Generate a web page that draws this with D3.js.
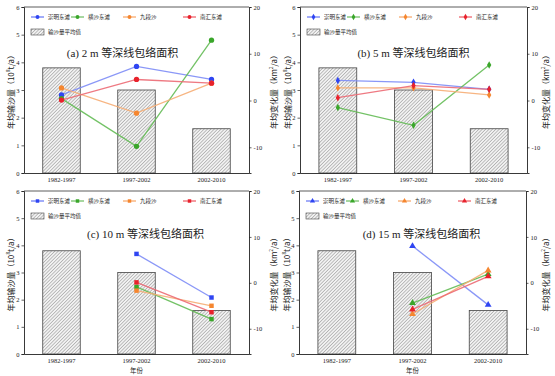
<!DOCTYPE html>
<html><head><meta charset="utf-8">
<script src="https://cdn.jsdelivr.net/npm/d3@7"></script>
<style>body{margin:0;background:#fff}svg{display:block}</style>
</head><body>
<svg id="c" width="555" height="376"></svg>
<script>
const categories = ["1982-1997", "1997-2002", "2002-2010"];
const barValues = [3.8, 3.0, 1.6];
const seriesNames = ["崇明东滩", "横沙东滩", "九段沙", "南汇东滩"];
const barLegend = "输沙量平均值";
const leftTicks = [0, 1, 2, 3, 4, 5, 6];
const rightTicks = [-10, 0, 10, 20];
const panelTitles = ["(a) 2 m 等深线包络面积", "(b) 5 m 等深线包络面积", "(c) 10 m 等深线包络面积", "(d) 15 m 等深线包络面积"];
// series values (km²/a), order: 崇明东滩, 横沙东滩, 九段沙, 南汇东滩
const panelA = [[1.2, 7.3, 4.5], [0.4, -9.8, 12.9], [2.7, -2.7, 3.7], [0.1, 4.5, 3.7]];
const panelB = [[4.3, 3.9, 2.4], [-1.5, -5.3, 7.6], [2.7, 2.7, 1.2], [0.6, 3.2, 2.4]];
const panelC = [[null, 6.3, -3.2], [null, -0.9, -7.9], [null, -1.7, -5.0], [null, 0.1, -6.4]];
const panelD = [[null, 8.0, -4.8], [null, -4.4, 1.9], [null, -6.8, 2.7], [null, -5.8, 1.4]];

const panelData = [panelA, panelB, panelC, panelD];
const colors = ["#2f45f2", "#3aa62a", "#f5862f", "#e8222c"];
const lineColors = ["#7d8cf6", "#64bb55", "#f6ad74", "#ec6a74"];
const symbols = [d3.symbolCircle, d3.symbolDiamond, d3.symbolSquare, d3.symbolTriangle];
const symSizes = [22, 16, 20, 20];

const svg = d3.select("#c");
const defs = svg.append("defs");
const pat = defs.append("pattern").attr("id", "hatch").attr("patternUnits", "userSpaceOnUse")
  .attr("width", 2.4).attr("height", 2.4).attr("patternTransform", "rotate(45)");
pat.append("rect").attr("width", 2.4).attr("height", 2.4).attr("fill", "#f2f2f2");
pat.append("line").attr("x1", 0).attr("y1", 0).attr("x2", 0).attr("y2", 2.4)
  .attr("stroke", "#8a8a8a").attr("stroke-width", 1);

const serif = "'Liberation Serif','Noto Sans CJK SC',serif";
const cjk = "'Noto Sans CJK SC','Liberation Serif',serif";

const panels = [
  {x0: 24, x1: 249, y0: 7, y1: 173, lx: 10, rx: 273, xl: false, tdx: -14, tdy: 50},
  {x0: 300, x1: 527, y0: 7, y1: 173, lx: 287, rx: 545, xl: false, tdx: 0, tdy: 50},
  {x0: 24, x1: 249, y0: 191, y1: 354, lx: 10, rx: 273, xl: true, tdx: 9, tdy: 47},
  {x0: 299, x1: 526, y0: 191, y1: 354, lx: 286, rx: 545, xl: true, tdx: 9, tdy: 47}
];

panels.forEach((p, pi) => {
  const g = svg.append("g");
  const x = d3.scaleBand().domain(categories).range([p.x0, p.x1]).paddingInner(0.5).paddingOuter(0.25);
  const yL = d3.scaleLinear().domain([0, 6]).range([p.y1, p.y0]);
  const yR = d3.scaleLinear().domain([-15.5, 20]).range([p.y1, p.y0]);

  // bars
  g.selectAll("rect.bar").data(barValues).join("rect").attr("class", "bar")
    .attr("x", (d, i) => x(categories[i])).attr("width", x.bandwidth())
    .attr("y", d => yL(d)).attr("height", d => yL(0) - yL(d))
    .attr("fill", "url(#hatch)").attr("stroke", "#444").attr("stroke-width", 0.8);

  // top frame
  g.append("line").attr("x1", p.x0).attr("x2", p.x1).attr("y1", p.y0).attr("y2", p.y0)
    .attr("stroke", "#333").attr("stroke-width", 0.8);

  // axes
  const axL = g.append("g").attr("transform", `translate(${p.x0},0)`)
    .call(d3.axisLeft(yL).tickValues(leftTicks).tickSize(2.5).tickPadding(2).tickFormat(d3.format("d")));
  const axR = g.append("g").attr("transform", `translate(${p.x1},0)`)
    .call(d3.axisRight(yR).tickValues(rightTicks).tickSize(2.5).tickPadding(2).tickFormat(d => d < 0 ? "-" + Math.abs(d) : d));
  const axB = g.append("g").attr("transform", `translate(0,${p.y1})`)
    .call(d3.axisBottom(x).tickSize(0).tickPadding(4));
  [axL, axR, axB].forEach(a => {
    a.selectAll("path").attr("stroke", "#222").attr("stroke-width", 0.9);
    a.selectAll("line").attr("stroke", "#222").attr("stroke-width", 0.7);
    a.selectAll("text").attr("font-family", serif).attr("font-size", 6.5).attr("fill", "#222");
  });
  axB.selectAll("text").attr("font-size", 6.5);

  // series
  const data = panelData[pi];
  const line = d3.line().defined(d => d.v !== null).x(d => x(d.c) + x.bandwidth() / 2).y(d => yR(d.v));
  data.forEach((vals, si) => {
    const pts = vals.map((v, i) => ({c: categories[i], v}));
    g.append("path").datum(pts).attr("d", line).attr("fill", "none")
      .attr("stroke", lineColors[si]).attr("stroke-width", 1.3).attr("opacity", 0.9);
  });
  data.forEach((vals, si) => {
    const pts = vals.map((v, i) => ({c: categories[i], v})).filter(d => d.v !== null);
    g.selectAll(null).data(pts).join("path")
      .attr("transform", d => `translate(${x(d.c) + x.bandwidth() / 2},${yR(d.v)})`)
      .attr("d", d3.symbol().type(symbols[pi]).size(symSizes[pi]))
      .attr("fill", colors[si]);
  });

  // legend
  const lx = p.x0 + 7;
  const ly = p.y0 + 10;
  const itemX = [0, 40, 92, 152];
  seriesNames.forEach((n, si) => {
    const ix = lx + itemX[si];
    g.append("line").attr("x1", ix).attr("x2", ix + 13).attr("y1", ly).attr("y2", ly)
      .attr("stroke", colors[si]).attr("stroke-width", 0.9);
    g.append("path").attr("transform", `translate(${ix + 6.5},${ly})`)
      .attr("d", d3.symbol().type(symbols[pi]).size(12)).attr("fill", colors[si]);
    g.append("text").attr("x", ix + 17).attr("y", ly + 2).attr("font-family", cjk)
      .attr("font-size", 5.5).attr("fill", "#222").text(n);
  });
  g.append("rect").attr("x", lx).attr("y", ly + 12).attr("width", 13).attr("height", 6)
    .attr("fill", "url(#hatch)").attr("stroke", "#444").attr("stroke-width", 0.6);
  g.append("text").attr("x", lx + 17).attr("y", ly + 17).attr("font-family", cjk)
    .attr("font-size", 5.5).attr("fill", "#222").text(barLegend);

  // title
  g.append("text").attr("x", (p.x0 + p.x1) / 2 + p.tdx).attr("y", p.y0 + p.tdy)
    .attr("text-anchor", "middle").attr("font-family", serif).attr("font-size", 11).attr("fill", "#222")
    .text(panelTitles[pi]);

  // y labels
  const ymid = (p.y0 + p.y1) / 2;
  const tl = g.append("text").attr("transform", `translate(${p.lx},${ymid}) rotate(-90)`)
    .attr("text-anchor", "middle").attr("dominant-baseline", "central")
    .attr("font-family", cjk).attr("font-size", 8).attr("fill", "#222");
  tl.append("tspan").text("年均输沙量（10");
  tl.append("tspan").attr("font-size", 5).attr("dy", -3).text("8");
  tl.append("tspan").attr("dy", 3).text("t/a）");
  const tr = g.append("text").attr("transform", `translate(${p.rx},${ymid}) rotate(-90)`)
    .attr("text-anchor", "middle").attr("dominant-baseline", "central")
    .attr("font-family", cjk).attr("font-size", 8).attr("fill", "#222");
  tr.append("tspan").text("年均变化量（km");
  tr.append("tspan").attr("font-size", 5).attr("dy", -3).text("2");
  tr.append("tspan").attr("dy", 3).text("/a）");

  if (p.xl) {
    g.append("text").attr("x", (p.x0 + p.x1) / 2).attr("y", p.y1 + 19)
      .attr("text-anchor", "middle").attr("font-family", cjk).attr("font-size", 6.5).attr("fill", "#222").text("年份");
  }
});
</script>
</body></html>
